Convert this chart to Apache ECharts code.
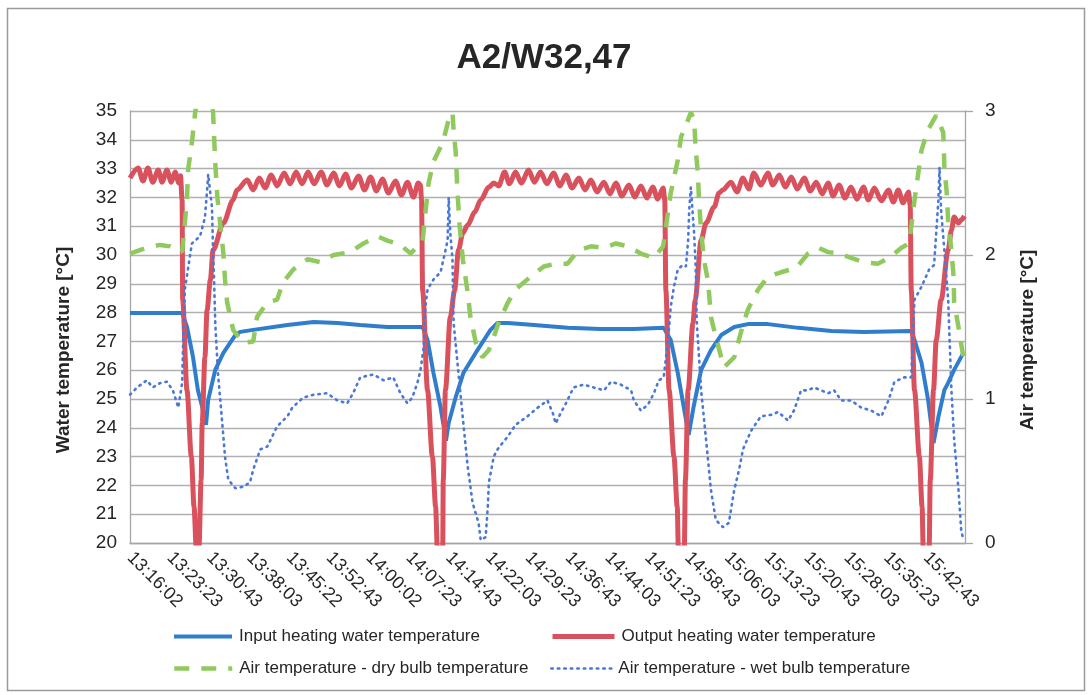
<!DOCTYPE html>
<html>
<head>
<meta charset="utf-8">
<script src="https://cdn.jsdelivr.net/npm/echarts@6/dist/echarts.min.js"></script>
<style>
html,body{margin:0;padding:0;background:#fff;}
#chart{width:1088px;height:695px;}
</style>
</head>
<body>
<div id="chart"></div>
<script>
// Time labels shown on the x axis (one every 440 s from 13:16:02)
const tickLabels = ['13:16:02','13:23:23','13:30:43','13:38:03','13:45:22','13:52:43','14:00:02','14:07:23','14:14:43','14:22:03','14:29:23','14:36:43','14:44:03','14:51:23','14:58:43','15:06:03','15:13:23','15:20:43','15:28:03','15:35:23','15:42:43'];
const seriesNames = ['Input heating water temperature','Output heating water temperature','Air temperature - dry bulb temperature','Air temperature - wet bulb temperature'];

// [minutes after 13:16:02, °C]
const inputWater = [[0,27.99],[9.6,27.99],[10.5,27.5],[11.6,26.46],[12.5,25.31],[13.3,24.72],[14.0,24.1],[14.4,24.97],[15.7,26.01],[17.2,26.6],[19.4,27.22],[20.3,27.33],[22.7,27.4],[29.0,27.57],[33.8,27.67],[38.2,27.64],[42.4,27.57],[47.4,27.5],[53.9,27.5],[54.8,27.05],[55.9,25.9],[57.2,24.72],[58.2,23.55],[58.7,24.17],[60.0,25.07],[61.4,25.9],[64.0,26.7],[66.4,27.4],[67.7,27.64],[69.6,27.64],[74.4,27.57],[80.6,27.47],[86.7,27.43],[92.8,27.43],[98.3,27.47],[99.6,27.05],[100.9,25.9],[102.0,24.72],[102.9,23.75],[103.8,24.72],[105.2,26.01],[107.0,26.7],[108.9,27.22],[111.3,27.5],[113.8,27.6],[117.5,27.6],[123.1,27.47],[129.2,27.36],[135.2,27.33],[143.9,27.36],[144.5,27.05],[145.8,26.25],[147.0,24.97],[148.0,23.47],[148.9,24.38],[150.0,25.31],[150.7,25.56],[151.8,26.01],[153.5,26.6]];

const outputWater = [[0,32.67],[1.5,33.02],[2.4,32.57],[3.3,33.02],[4.2,32.53],[5.2,32.95],[5.9,32.53],[6.8,32.95],[7.6,32.53],[8.3,32.88],[9.0,32.5],[9.3,32.75],[9.6,31.91],[9.7,28.44],[10.5,25.31],[11.3,22.99],[11.8,21.25],[12.2,19.83],[12.7,19.83],[13.1,22.19],[13.3,24.17],[13.8,26.46],[14.2,28.09],[14.8,29.13],[15.3,30.17],[17.2,31.11],[19.0,31.91],[19.7,32.26],
[21.6,32.6],[22.7,32.26],[23.8,32.67],[24.9,32.33],[26.0,32.78],[27.1,32.4],[28.4,32.85],[29.5,32.47],[30.6,32.88],[31.7,32.47],[32.8,32.88],[33.9,32.47],[35.2,32.88],[36.3,32.43],[37.5,32.85],[38.6,32.4],[39.7,32.81],[40.8,32.33],[42.1,32.74],[43.2,32.26],[44.3,32.71],[45.4,32.22],[46.5,32.64],[47.6,32.15],[48.9,32.57],[50.0,32.08],[51.1,32.53],[52.2,32.01],[53.1,32.5],
[53.5,32.43],[53.7,31.91],[53.9,28.78],[54.8,25.31],[55.7,22.99],[56.3,21.25],[56.6,19.83],[57.6,19.83],[57.7,22.19],[58.1,25.31],[59.0,27.85],[59.8,28.78],[60.5,30.17],[61.3,30.76],[62.2,31.04],[63.5,31.49],[64.6,31.91],[66.1,32.36],[67.0,32.5],
[67.9,32.4],[69.0,32.88],[69.9,32.47],[71.0,32.88],[72.1,32.5],[73.4,32.95],[74.5,32.53],[75.6,32.88],[76.8,32.47],[78.0,32.85],[79.2,32.4],[80.3,32.78],[81.4,32.33],[82.7,32.67],[83.8,32.26],[84.9,32.6],[86.0,32.19],[87.3,32.53],[88.4,32.12],[89.5,32.5],[90.6,32.05],[91.9,32.43],[93.0,32.01],[94.1,32.4],[95.2,31.98],[96.3,32.36],[97.2,31.94],[98.2,32.33],
[98.5,31.91],[98.7,28.78],[99.3,25.31],[100.2,22.99],[100.8,21.25],[101.0,19.83],[102.1,19.83],[102.3,22.19],[102.8,25.31],[103.7,27.64],[104.1,28.44],[105.2,30.52],[106.1,31.11],[107.6,31.67],[108.5,32.15],[109.2,32.26],
[110.7,32.53],[111.8,32.19],[112.9,32.67],[114.0,32.29],[114.9,32.85],[116.2,32.43],[117.5,32.85],[118.4,32.43],[119.6,32.78],[120.7,32.36],[121.8,32.71],[122.9,32.29],[124.2,32.67],[125.3,32.22],[126.4,32.53],[127.5,32.12],[128.6,32.5],[129.5,32.05],[130.6,32.43],[131.7,31.98],[132.8,32.36],[133.9,31.94],[135.1,32.36],[136.0,31.91],[137.1,32.33],[138.4,31.88],[139.7,32.26],[140.6,31.84],[141.5,32.26],[142.4,31.81],[143.4,32.19],
[143.7,31.74],[143.9,28.78],[144.5,25.31],[145.4,22.99],[145.9,21.25],[146.1,19.83],[147.2,19.83],[147.4,22.19],[148.0,25.31],[148.5,27.05],[149.4,28.44],[150.7,30.17],[151.3,30.87],[151.8,31.32],[152.6,31.11],[153.1,31.22],[153.7,31.35]];

const dryBulb = [[0,2.01],[3.1,2.05],[5.5,2.07],[7.4,2.06],[9.6,2.02],[10.1,2.22],[10.5,2.4],[10.7,2.59],[11.4,2.78],[12.0,2.99],[13.8,3.35],[15.3,2.99],[15.7,2.64],[16.1,2.4],[16.6,2.22],[17.2,2.01],[17.5,1.83],[17.9,1.67],[19.0,1.48],[20.8,1.39],[22.7,1.4],[23.4,1.57],[25.3,1.67],[27.1,1.69],[28.2,1.81],[30.1,1.9],[32.7,1.97],[35.1,1.95],[37.5,2.0],[40.6,2.02],[43.0,2.08],[45.6,2.13],[47.4,2.1],[49.8,2.07],[51.7,2.01],[53.9,2.1],[54.4,2.29],[55.0,2.5],[55.9,2.65],[57.6,2.78],[58.7,2.94],[59.4,2.99],[59.6,2.87],[60.0,2.71],[60.3,2.45],[60.7,2.21],[61.3,1.97],[62.2,1.74],[62.7,1.57],[63.7,1.39],[64.9,1.29],[66.1,1.34],[67.0,1.43],[67.9,1.53],[69.6,1.67],[71.0,1.76],[73.8,1.85],[76.2,1.92],[78.4,1.94],[80.6,1.94],[82.5,2.03],[84.9,2.06],[87.3,2.05],[89.5,2.08],[91.7,2.06],[94.1,2.01],[96.5,1.98],[98.2,2.06],[99.6,2.43],[100.9,2.66],[101.5,2.82],[102.8,2.94],[103.3,2.99],[103.9,2.94],[104.2,2.73],[104.6,2.57],[104.8,2.38],[105.2,2.17],[105.7,1.97],[106.5,1.81],[107.0,1.57],[107.9,1.43],[109.4,1.22],[111.3,1.29],[112.5,1.46],[113.8,1.62],[115.7,1.76],[117.5,1.85],[119.9,1.88],[122.7,1.91],[124.9,2.01],[126.8,2.05],[128.6,2.02],[130.6,2.01],[132.8,1.98],[135.2,1.95],[137.8,1.94],[140.2,1.99],[142.1,2.05],[143.5,2.08],[144.5,2.38],[145.2,2.57],[145.8,2.73],[147.0,2.87],[148.5,2.97],[149.8,2.85],[150.0,2.61],[150.4,2.45],[150.7,2.24],[151.3,2.03],[151.7,1.85],[151.8,1.67],[152.6,1.5],[153.5,1.29]];

const wetBulb = [[0,1.03],[1.3,1.08],[3.1,1.13],[4.2,1.08],[5.5,1.11],[6.8,1.12],[7.9,1.06],[8.9,0.94],[9.6,1.11],[9.8,1.41],[10.1,1.76],[11.4,2.08],[12.9,2.13],[13.8,2.26],[14.2,2.45],[14.4,2.56],[15.1,2.33],[15.3,2.03],[15.5,1.81],[15.7,1.53],[16.2,1.18],[17.0,0.83],[17.5,0.6],[18.1,0.44],[19.4,0.38],[20.8,0.39],[22.1,0.42],[22.7,0.51],[24.0,0.65],[25.3,0.67],[27.1,0.81],[29.0,0.88],[29.9,0.94],[31.9,1.01],[33.8,1.03],[36.3,1.04],[38.2,0.99],[40.0,0.97],[41.1,1.04],[42.4,1.15],[44.8,1.17],[46.7,1.13],[48.5,1.15],[49.8,1.04],[51.1,0.97],[52.0,1.01],[53.0,1.12],[53.5,1.2],[54.1,1.36],[54.4,1.64],[54.8,1.76],[55.9,1.83],[57.2,1.88],[58.5,2.1],[58.7,2.4],[59.0,2.15],[59.4,1.97],[59.6,1.53],[60.5,1.18],[61.4,0.83],[62.2,0.53],[63.1,0.28],[64.2,0.14],[64.6,0.02],[65.5,0.04],[65.9,0.25],[66.1,0.42],[67.0,0.6],[67.7,0.65],[68.3,0.68],[69.6,0.74],[71.0,0.82],[73.2,0.88],[75.1,0.94],[76.9,0.99],[77.9,0.9],[78.4,0.83],[79.3,0.9],[80.3,0.97],[81.7,1.08],[83.6,1.1],[85.4,1.08],[87.3,1.06],[88.6,1.12],[90.4,1.1],[92.3,1.06],[92.8,0.99],[94.1,0.92],[95.4,0.96],[96.5,1.04],[97.4,1.13],[98.3,1.15],[99.1,1.41],[99.6,1.64],[100.2,1.78],[100.9,1.9],[101.8,1.93],[102.4,1.92],[102.8,2.1],[103.0,2.31],[103.3,2.47],[103.9,2.15],[104.2,1.92],[104.4,1.53],[105.2,1.06],[106.1,0.72],[107.0,0.37],[107.9,0.16],[109.2,0.11],[110.3,0.14],[111.3,0.37],[112.2,0.51],[112.9,0.65],[114.4,0.78],[116.2,0.88],[118.1,0.89],[119.4,0.91],[121.2,0.85],[122.3,0.92],[123.6,1.06],[124.9,1.06],[126.0,1.08],[127.3,1.06],[128.6,1.04],[129.7,1.06],[131.0,0.99],[132.8,0.99],[134.7,0.94],[136.5,0.92],[138.4,0.88],[139.7,0.99],[140.8,1.12],[142.6,1.15],[143.9,1.15],[144.3,1.53],[144.5,1.69],[145.8,1.78],[147.2,1.9],[148.1,1.93],[148.9,2.38],[149.1,2.61],[149.4,2.31],[150.0,2.03],[150.7,1.69],[151.3,1.06],[151.8,0.72],[152.6,0.37],[153.1,0.09],[153.5,0.02]];

const STEP = 440;            // seconds between shown time labels
const X_MAX = 153.8 * 60;    // end of the recording (s)
const toSec = arr => arr.map(p => [p[0] * 60, p[1]]);

const FONT = "'Liberation Sans', Arial, sans-serif";
const chart = echarts.init(document.getElementById('chart'), null, {renderer: 'canvas'});

function legendAt(name, left, top, w, lw) {
  return {
    data: [name], left: left, top: top, itemWidth: w, itemHeight: 14, itemGap: 0,
    itemStyle: {opacity: 0},
    lineStyle: {width: lw},
    textStyle: {fontFamily: FONT, fontSize: 17, color: '#262626', padding: [0, 0, 0, 2]},
    selectedMode: false
  };
}

chart.setOption({
  animation: false,
  backgroundColor: '#ffffff',
  title: {
    text: 'A2/W32,47', left: 'center', top: 36,
    textStyle: {fontFamily: FONT, fontSize: 35, fontWeight: 'bold', color: '#262626'}
  },
  graphic: [{
    type: 'rect', left: 5, top: 6, shape: {width: 1077, height: 682},
    style: {fill: 'none', stroke: '#9a9a9a', lineWidth: 1.5}, silent: true
  }],
  legend: [
    legendAt(seriesNames[0], 167, 623, 58, 4),
    legendAt(seriesNames[1], 545, 623, 62, 5),
    legendAt(seriesNames[2], 167, 655, 58, 4.5),
    legendAt(seriesNames[3], 545, 655, 60, 2.6)
  ],
  grid: {left: 130, right: 123, top: 111, bottom: 152, containLabel: false},
  xAxis: {
    type: 'value', min: 0, max: X_MAX, interval: STEP,
    axisLine: {show: true, lineStyle: {color: '#a6a6a6', width: 1.3}},
    axisTick: {show: false},
    splitLine: {show: false},
    axisLabel: {
      rotate: -45, margin: 12, fontFamily: FONT, fontSize: 18, color: '#262626',
      showMaxLabel: false,
      formatter: function (v) {
        const i = Math.round(v / STEP);
        if (Math.abs(v - i * STEP) > 1) return '';
        return tickLabels[i] || '';
      }
    }
  },
  yAxis: [{
    type: 'value', min: 20, max: 35, interval: 1, position: 'left',
    name: 'Water temperature [°C]', nameLocation: 'middle', nameRotate: 90, nameGap: 57,
    nameTextStyle: {fontFamily: FONT, fontSize: 19, fontWeight: 'bold', color: '#262626', padding: [0, 46, 0, 0]},
    axisLine: {show: true, lineStyle: {color: '#a6a6a6', width: 1.3}},
    axisTick: {show: false},
    axisLabel: {margin: 13, fontFamily: FONT, fontSize: 19, color: '#262626'},
    splitLine: {show: true, lineStyle: {color: '#b0b0b0', width: 1.3}}
  }, {
    type: 'value', min: 0, max: 3, interval: 1, position: 'right',
    name: 'Air temperature [°C]', nameLocation: 'middle', nameRotate: 90, nameGap: 53,
    nameTextStyle: {fontFamily: FONT, fontSize: 19, fontWeight: 'bold', color: '#262626', padding: [0, 26, 0, 0]},
    axisLine: {show: true, lineStyle: {color: '#a6a6a6', width: 1.3}},
    axisTick: {show: true, inside: false, length: 8, lineStyle: {color: '#a6a6a6', width: 1.3}},
    axisLabel: {margin: 20, fontFamily: FONT, fontSize: 19, color: '#262626'},
    splitLine: {show: false}
  }],
  series: [{
    name: seriesNames[0], type: 'line', yAxisIndex: 0, data: toSec(inputWater),
    showSymbol: false, symbol: 'none', smooth: false,
    lineStyle: {color: '#2f7dcc', width: 4}, itemStyle: {color: '#2f7dcc'}
  }, {
    name: seriesNames[1], type: 'line', yAxisIndex: 0, data: toSec(outputWater),
    showSymbol: false, symbol: 'none', smooth: 0.3, smoothMonotone: 'x',
    lineStyle: {color: '#d9515d', width: 5}, itemStyle: {color: '#d9515d'}
  }, {
    name: seriesNames[2], type: 'line', yAxisIndex: 1, data: toSec(dryBulb),
    showSymbol: false, symbol: 'none',
    lineStyle: {color: '#90c95e', width: 4.5, type: [15, 12]}, itemStyle: {color: '#90c95e'}
  }, {
    name: seriesNames[3], type: 'line', yAxisIndex: 1, data: toSec(wetBulb),
    showSymbol: false, symbol: 'none',
    lineStyle: {color: '#4a78d6', width: 2.6, type: [1.5, 5], cap: 'round'}, itemStyle: {color: '#4a78d6'}
  }]
});
</script>
</body>
</html>
